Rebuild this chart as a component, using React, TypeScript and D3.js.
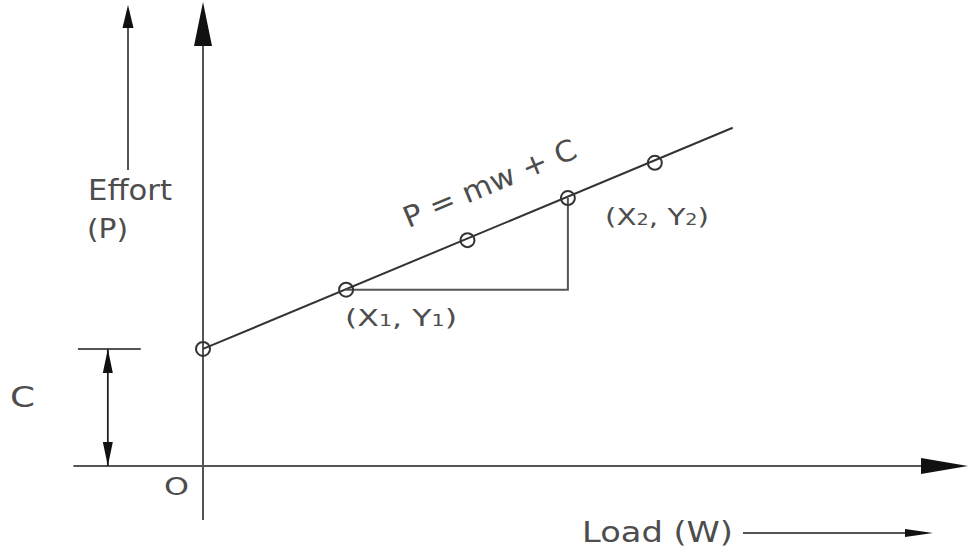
import React from "react";
import * as d3 from "d3";

const W = 969;
const H = 553;

// Data (load W in units, effort P in units)
const loads = [0, 1.91, 3.53, 4.87, 6.03];
const efforts = [1.56, 2.35, 3.01, 3.57, 4.04];
const intercept = 1.56;
const slope = 0.417;
const lineEndLoad = 7.07;
const point1Index = 1;
const point2Index = 3;
const xDomain = [0, 10.21];
const yDomain = [0, 6.21];
const xAxisStart = -1.73;
const yAxisBottom = -0.72;
const cDimLeft = -1.67;
const cDimRight = -0.83;
const cDimX = -1.27;

const FONT = "'DejaVu Sans', sans-serif";
const TEXT = "#4d4d4d";
const LINE = "#555";

export default function App() {
  const x = d3.scaleLinear().domain(xDomain).range([203, 968]);
  const y = d3.scaleLinear().domain(yDomain).range([466, 0]);
  const fit = (w: number) => intercept + slope * w;
  const lineGen = d3
    .line<[number, number]>()
    .x((d) => x(d[0]))
    .y((d) => y(d[1]));

  const x0 = x(0);
  const y0 = y(0);
  const p1 = [loads[point1Index], efforts[point1Index]];
  const p2 = [loads[point2Index], efforts[point2Index]];
  const angle =
    (Math.atan2(y(fit(lineEndLoad)) - y(intercept), x(lineEndLoad) - x(0)) * 180) /
    Math.PI;

  const arrowUp = (cx: number, tip: number, base: number, hw: number) =>
    `M${cx},${tip} L${cx + hw},${base} L${cx - hw},${base} Z`;
  const arrowRight = (cy: number, tip: number, base: number, hh: number) =>
    `M${tip},${cy} L${base},${cy - hh} L${base},${cy + hh} Z`;

  const labelStyle = { fontFamily: FONT, fill: TEXT };
  const eqLoad = 2.74;

  return (
    <svg
      width={W}
      height={H}
      style={{ position: "fixed", left: 0, top: 0, background: "#fff" }}
    >
      {/* Y axis */}
      <line x1={x0} x2={x0} y1={y(yAxisBottom)} y2={40} stroke={LINE} strokeWidth={2} />
      <path d={arrowUp(x0, 2, 46, 9)} fill="#111" />
      {/* X axis */}
      <line x1={x(xAxisStart)} x2={925} y1={y0} y2={y0} stroke={LINE} strokeWidth={2} />
      <path d={arrowRight(y0, 968, 921, 8)} fill="#111" />

      {/* Effort arrow */}
      <line x1={128} x2={128} y1={170} y2={24} stroke={LINE} strokeWidth={2} />
      <path d={arrowUp(128, 5, 28, 5.5)} fill="#111" />
      <text x={88} y={200} fontSize={29} textLength={84} lengthAdjust="spacingAndGlyphs" style={labelStyle}>Effort</text>
      <text x={87} y={238} fontSize={27} textLength={41} lengthAdjust="spacingAndGlyphs" style={labelStyle}>(P)</text>

      {/* C dimension */}
      <line x1={x(cDimLeft)} x2={x(cDimRight)} y1={y(intercept)} y2={y(intercept)} stroke={LINE} strokeWidth={2} />
      <line x1={x(cDimX)} x2={x(cDimX)} y1={y(intercept)} y2={y0} stroke="#222" strokeWidth={1.8} />
      <path d={`M${x(cDimX)},${y(intercept)} L${x(cDimX) + 5},${y(intercept) + 24} L${x(cDimX) - 5},${y(intercept) + 24} Z`} fill="#111" />
      <path d={`M${x(cDimX)},${y0} L${x(cDimX) + 5},${y0 - 24} L${x(cDimX) - 5},${y0 - 24} Z`} fill="#111" />
      <text x={10} y={407} fontSize={28} textLength={25} lengthAdjust="spacingAndGlyphs" style={labelStyle}>C</text>
      <text x={164} y={495} fontSize={25} textLength={25} lengthAdjust="spacingAndGlyphs" style={labelStyle}>O</text>

      {/* Fitted line */}
      <path
        d={lineGen([[0, fit(0)], [lineEndLoad, fit(lineEndLoad)]]) || ""}
        stroke="#333"
        strokeWidth={2}
        fill="none"
      />

      {/* Slope triangle */}
      <path
        d={lineGen([[p1[0], p1[1]], [p2[0], p1[1]], [p2[0], p2[1]]]) || ""}
        stroke={LINE}
        strokeWidth={2}
        fill="none"
      />

      {/* Points */}
      {loads.map((l, i) => (
        <circle key={i} cx={x(l)} cy={y(efforts[i])} r={7} fill="none" stroke="#333" strokeWidth={2} />
      ))}

      {/* Equation */}
      <text
        x={0}
        y={0}
        fontSize={29}
        textLength={185}
        lengthAdjust="spacingAndGlyphs"
        style={labelStyle}
        transform={`translate(${x(eqLoad)},${y(fit(eqLoad)) - 35}) rotate(${angle})`}
      >
        P = mw + C
      </text>

      {/* Point labels */}
      <text x={345} y={326} fontSize={23} textLength={112} lengthAdjust="spacingAndGlyphs" style={labelStyle}>
        (X<tspan fontSize={15}>1</tspan>, Y<tspan fontSize={15}>1</tspan>)
      </text>
      <text x={605} y={225} fontSize={23} textLength={104} lengthAdjust="spacingAndGlyphs" style={labelStyle}>
        (X<tspan fontSize={15}>2</tspan>, Y<tspan fontSize={15}>2</tspan>)
      </text>

      {/* Load label */}
      <text x={582} y={542} fontSize={28} textLength={151} lengthAdjust="spacingAndGlyphs" style={labelStyle}>Load (W)</text>
      <line x1={743} x2={912} y1={533} y2={533} stroke={LINE} strokeWidth={2} />
      <path d={arrowRight(533, 933, 905, 4)} fill="#111" />
    </svg>
  );
}
